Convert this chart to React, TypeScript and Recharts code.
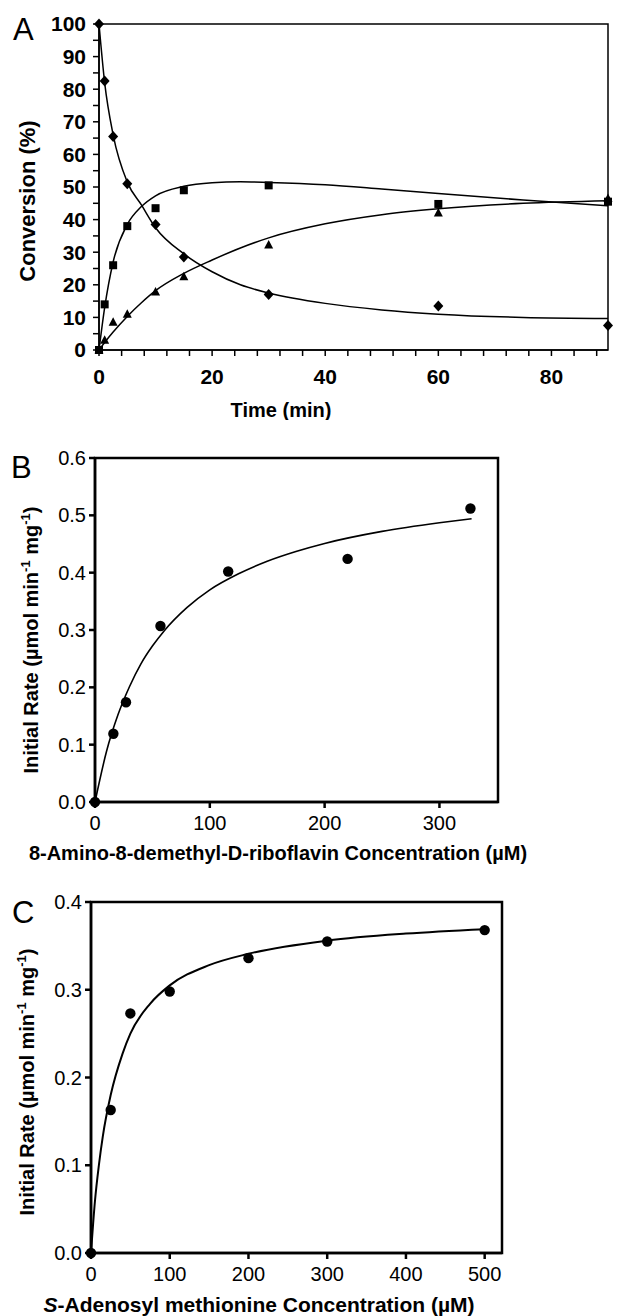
import React from 'react';
import { ComposedChart, Line, Scatter, XAxis, YAxis, ReferenceArea } from 'recharts';

// Panel A: time course (min vs %)
const timePoints = [0, 1, 2.5, 5, 10, 15, 30, 60, 90];
const substrate = [100, 82.5, 65.5, 51, 38.5, 28.5, 17, 13.5, 7.5];
const intermediate = [0, 14, 26, 38, 43.5, 49, 50.5, 44.8, 45.5];
const product = [0, 3, 8.5, 11, 17.8, 22.5, 32.2, 42, 46.5];

const fitTime = [0, 1, 2.5, 5, 7.5, 10, 15, 20, 25, 30, 40, 50, 60, 75, 90];
const substrateFit = [100, 82, 66, 51.5, 44.5, 37.5, 29.5, 24, 20, 17.5, 14.3, 12.3, 11, 10, 9.7];
const intermediateFit = [0, 13, 27, 38.5, 44, 47.3, 50.2, 51.3, 51.6, 51.4, 50.7, 49.4, 48, 46, 44.2];
const productFit = [0, 2.3, 5.5, 10.3, 14.5, 18.2, 23.5, 27.6, 31.3, 34.4, 38.7, 41.5, 43.3, 45, 45.8];

const timeTicks = [0, 4, 8, 12, 16, 20, 24, 28, 32, 36, 40, 44, 48, 52, 56, 60, 64, 68, 72, 76, 80, 84, 88];
const convTicks = [0, 5, 10, 15, 20, 25, 30, 35, 40, 45, 50, 55, 60, 65, 70, 75, 80, 85, 90, 95, 100];

// Panel B: riboflavin analogue
const flavinConc = [0, 16, 27, 57, 116, 220, 327];
const flavinRate = [0, 0.119, 0.174, 0.307, 0.402, 0.424, 0.512];
const flavinFitConc = [0, 10, 20, 30, 40, 50, 60, 80, 100, 125, 150, 175, 200, 250, 300, 328];
const flavinFitRate = [0, 0.088, 0.152, 0.201, 0.241, 0.272, 0.298, 0.339, 0.37, 0.398, 0.42, 0.437, 0.451, 0.472, 0.487, 0.494];
const flavinXTicks = [0, 100, 200, 300];

// Panel C: SAM
const samConc = [0, 25, 50, 100, 200, 300, 500];
const samRate = [0, 0.163, 0.273, 0.298, 0.336, 0.355, 0.368];
const samFitConc = [0, 5, 10, 15, 25, 40, 50, 75, 100, 150, 200, 300, 400, 500];
const samFitRate = [0, 0.059, 0.1, 0.133, 0.18, 0.227, 0.25, 0.284, 0.305, 0.328, 0.341, 0.356, 0.364, 0.369];
const samXTicks = [0, 100, 200, 300, 400, 500];

const rateTicksB = [0, 0.1, 0.2, 0.3, 0.4, 0.5, 0.6];
const rateTicksC = [0, 0.1, 0.2, 0.3, 0.4];

const zip = (xs: number[], ys: number[]) => xs.map((x, i) => ({ x, y: ys[i] }));

const FONT = '"Liberation Sans", Arial, sans-serif';

const Diamond = (p: any) => (
  <path d={`M${p.cx},${p.cy - 5.5}L${p.cx + 5},${p.cy}L${p.cx},${p.cy + 5.5}L${p.cx - 5},${p.cy}Z`} fill="#000" />
);
const Square = (p: any) => <rect x={p.cx - 4} y={p.cy - 4} width={8} height={8} fill="#000" />;
const Triangle = (p: any) => (
  <path d={`M${p.cx},${p.cy - 5}L${p.cx + 4.5},${p.cy + 3.5}L${p.cx - 4.5},${p.cy + 3.5}Z`} fill="#000" />
);
const Dot = (p: any) => <circle cx={p.cx} cy={p.cy} r={5.2} fill="#000" />;

const XTickA = (p: any) =>
  p.payload.value % 20 === 0 ? (
    <text x={p.x} y={p.y} dy="0.71em" textAnchor="middle" fontFamily={FONT} fontWeight="bold" fontSize={21} fill="#000">
      {p.payload.value}
    </text>
  ) : (
    <g />
  );

const YTickA = (p: any) =>
  p.payload.value % 10 === 0 ? (
    <text x={p.x} y={p.y} dy="0.355em" textAnchor="end" fontFamily={FONT} fontWeight="bold" fontSize={21} fill="#000">
      {p.payload.value}
    </text>
  ) : (
    <g />
  );

const tickStyle = { fontFamily: FONT, fontSize: 20, fill: '#000' };

const RateLabel = ({ cx, cy }: { cx: number; cy: number }) => (
  <text transform={`translate(${cx},${cy}) rotate(-90)`} textAnchor="middle" fontFamily={FONT} fontWeight="bold" fontSize={20} fill="#000" dy="0.35em">
    Initial Rate (µmol min<tspan dy={-8} fontSize={13}>-1</tspan>
    <tspan dy={8}> mg</tspan>
    <tspan dy={-8} fontSize={13}>-1</tspan>
    <tspan dy={8}>)</tspan>
  </text>
);

const panelLetter = (top: number, left: number, txt: string) => (
  <div style={{ position: 'absolute', top, left, fontFamily: FONT, fontSize: 31, lineHeight: 1 }}>{txt}</div>
);

export default function App() {
  return (
    <div style={{ position: 'absolute', top: 0, left: 0, width: 622, height: 1316, background: '#fff' }}>
      {panelLetter(14, 13, 'A')}
      {panelLetter(452, 11, 'B')}
      {panelLetter(897, 12, 'C')}

      <div style={{ position: 'absolute', top: 0, left: 0 }}>
        <ComposedChart width={622} height={420} margin={{ top: 24, right: 14, left: 0, bottom: 10 }}>
          <XAxis
            dataKey="x"
            type="number"
            domain={[0, 90]}
            ticks={timeTicks}
            interval={0}
            tick={XTickA}
            tickSize={6}
            tickMargin={13}
            height={60}
            stroke="#000"
            strokeWidth={1.5}
            label={() => (
              <text x={281} y={417} textAnchor="middle" fontFamily={FONT} fontWeight="bold" fontSize={20} fill="#000">
                Time (min)
              </text>
            )}
          />
          <YAxis
            dataKey="y"
            type="number"
            domain={[0, 100]}
            ticks={convTicks}
            interval={0}
            tick={YTickA}
            tickSize={6}
            tickMargin={7}
            width={99}
            stroke="#000"
            strokeWidth={1.5}
            label={() => (
              <text transform="translate(27,201) rotate(-90)" textAnchor="middle" dy="0.35em" fontFamily={FONT} fontWeight="bold" fontSize={22} fill="#000">
                Conversion (%)
              </text>
            )}
          />
          <ReferenceArea x1={0} x2={90} y1={0} y2={100} fill="none" fillOpacity={0} stroke="#000" strokeWidth={1.5} />
          <Line data={zip(fitTime, substrateFit)} dataKey="y" type="monotone" stroke="#000" strokeWidth={1.5} dot={false} activeDot={false} isAnimationActive={false} />
          <Line data={zip(fitTime, intermediateFit)} dataKey="y" type="monotone" stroke="#000" strokeWidth={1.5} dot={false} activeDot={false} isAnimationActive={false} />
          <Line data={zip(fitTime, productFit)} dataKey="y" type="monotone" stroke="#000" strokeWidth={1.5} dot={false} activeDot={false} isAnimationActive={false} />
          <Scatter data={zip(timePoints, substrate)} shape={Diamond} isAnimationActive={false} />
          <Scatter data={zip(timePoints, intermediate)} shape={Square} isAnimationActive={false} />
          <Scatter data={zip(timePoints, product)} shape={Triangle} isAnimationActive={false} />
        </ComposedChart>
      </div>

      <div style={{ position: 'absolute', top: 430, left: 0 }}>
        <ComposedChart width={622} height={440} margin={{ top: 28, right: 124, left: 0, bottom: 8 }}>
          <XAxis
            dataKey="x"
            type="number"
            domain={[0, 351]}
            ticks={flavinXTicks}
            interval={0}
            tick={tickStyle}
            tickSize={6}
            tickMargin={8}
            height={60}
            stroke="#000"
            strokeWidth={2.5}
            label={() => (
              <text x={278} y={430} textAnchor="middle" fontFamily={FONT} fontWeight="bold" fontSize={20} fill="#000">
                8-Amino-8-demethyl-D-riboflavin Concentration (µM)
              </text>
            )}
          />
          <YAxis
            dataKey="y"
            type="number"
            domain={[0, 0.6]}
            ticks={rateTicksB}
            interval={0}
            tick={tickStyle}
            tickFormatter={(v: number) => v.toFixed(1)}
            tickSize={6}
            tickMargin={3}
            width={95}
            stroke="#000"
            strokeWidth={2.5}
            label={() => <RateLabel cx={31} cy={210} />}
          />
          <ReferenceArea x1={0} x2={351} y1={0} y2={0.6} fill="none" fillOpacity={0} stroke="#000" strokeWidth={2.5} />
          <Line data={zip(flavinFitConc, flavinFitRate)} dataKey="y" type="monotone" stroke="#000" strokeWidth={1.6} dot={false} activeDot={false} isAnimationActive={false} />
          <Scatter data={zip(flavinConc, flavinRate)} shape={Dot} isAnimationActive={false} />
        </ComposedChart>
      </div>

      <div style={{ position: 'absolute', top: 870, left: 0 }}>
        <ComposedChart width={622} height={446} margin={{ top: 32, right: 120, left: 0, bottom: 5 }}>
          <XAxis
            dataKey="x"
            type="number"
            domain={[0, 522]}
            ticks={samXTicks}
            interval={0}
            tick={tickStyle}
            tickSize={6}
            tickMargin={8}
            height={58}
            stroke="#000"
            strokeWidth={2.5}
            label={() => (
              <text x={259} y={442} textAnchor="middle" fontFamily={FONT} fontWeight="bold" fontSize={21} fill="#000">
                <tspan fontStyle="italic">S</tspan>-Adenosyl methionine Concentration (µM)
              </text>
            )}
          />
          <YAxis
            dataKey="y"
            type="number"
            domain={[0, 0.4]}
            ticks={rateTicksC}
            interval={0}
            tick={tickStyle}
            tickFormatter={(v: number) => v.toFixed(1)}
            tickSize={6}
            tickMargin={3}
            width={91}
            stroke="#000"
            strokeWidth={2.5}
            label={() => <RateLabel cx={27} cy={212} />}
          />
          <ReferenceArea x1={0} x2={522} y1={0} y2={0.4} fill="none" fillOpacity={0} stroke="#000" strokeWidth={2.5} />
          <Line data={zip(samFitConc, samFitRate)} dataKey="y" type="monotone" stroke="#000" strokeWidth={2} dot={false} activeDot={false} isAnimationActive={false} />
          <Scatter data={zip(samConc, samRate)} shape={Dot} isAnimationActive={false} />
        </ComposedChart>
      </div>
    </div>
  );
}
